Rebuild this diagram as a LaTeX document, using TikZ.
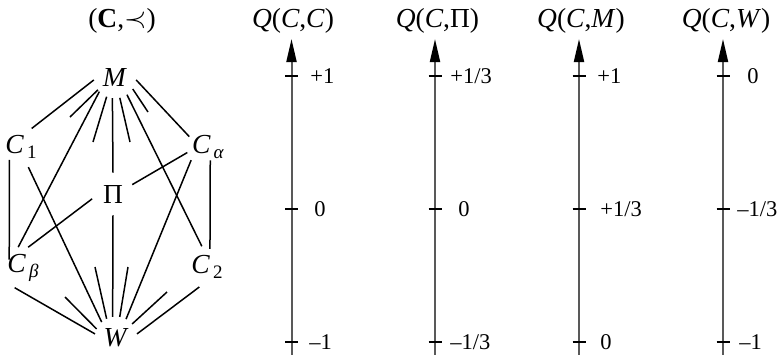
\documentclass[tikz,border=0pt]{standalone}
\usepackage{fontspec}
\setmainfont{Liberation Serif}
\usepackage{tikz}
\usetikzlibrary{arrows.meta, positioning}

\newcommand{\subsc}[1]{\kern1.5pt\raisebox{-2.8pt}{\fontsize{9.5}{10}\selectfont #1}}

\begin{document}
\begin{tikzpicture}[
    x=0.5pt, y=-0.5pt,
    elem/.style={circle, inner sep=0pt, minimum size=21pt, font=\fontsize{13.75}{16}\selectfont},
    edge/.style={line width=0.75pt},
    axis/.style={line width=1pt, black!65, -{Triangle[length=11.5pt, width=5pt, color=black]}},
    tick/.style={line width=0.6pt},
    val/.style={anchor=west, inner sep=0pt, font=\fontsize{11.25}{13}\selectfont},
    head/.style={anchor=base, inner sep=0pt, font=\fontsize{13.75}{16}\selectfont}
]
\useasboundingbox (0,0) rectangle (782,354);

% Order (C, prec)
\node[head] (title) at (122,27) {(\textbf{C},$\prec$)};
\node[elem] (M) at (115,77) {\textit{M}};
\node[elem] (C1) at (21,147) {\textit{C}\subsc{1}};
\node[elem] (Ca) at (208,147) {\textit{C}\subsc{\textit{α}}};
\node[elem] (Pi) at (113,194) {Π};
\node[elem] (Cb) at (23,268) {\textit{C}\subsc{\textit{β}}};
\node[elem] (C2) at (207,267) {\textit{C}\subsc{2}};
\node[elem] (W) at (116,338) {\textit{W}};

\draw[edge] (M.188) -- (C1.60);
\draw[edge] (M.223) -- (Cb.103);
\draw[edge] (M.263) -- (Pi.north);
\draw[edge] (M.304) -- (C2.104);
\draw[edge] (M.352) -- (Ca.151);
\draw[edge, shorten <=-2.5pt, shorten >=-4pt] (C1.237) -- (Cb.130);
\draw[edge, shorten <=-4pt, shorten >=-1.5pt] (Ca.276) -- (C2.82);
\draw[edge] (C1.290) -- (W.132);
\draw[edge] (Ca.218) -- (W.62);
\draw[edge] (Pi.south) -- (W.99);
\draw[edge] (Pi.193) -- (Cb.76);
\draw[edge] (Pi.26) -- (Ca.195);
\draw[edge] (Cb.247) -- (W.169);
\draw[edge] (C2.249) -- (W.11);

% stubs at M and W
\coordinate (m1) at (70,117);
\coordinate (m2) at (93,142);
\coordinate (m3) at (130,142);
\coordinate (m4) at (148,112);
\coordinate (w1) at (65,297);
\coordinate (w2) at (95,267);
\coordinate (w3) at (128,267);
\coordinate (w4) at (167,292);
\draw[edge] (M.217) -- (m1);
\draw[edge] (M.247) -- (m2);
\draw[edge] (M.283) -- (m3);
\draw[edge] (M.326) -- (m4);
\draw[edge] (W.155) -- (w1);
\draw[edge] (W.116) -- (w2);
\draw[edge] (W.80) -- (w3);
\draw[edge] (W.41) -- (w4);

% Axes
\coordinate (aCCb) at (291.5,360);
\coordinate (aCCt) at (291.5,39);
\coordinate (aCPb) at (435,360);
\coordinate (aCPt) at (435,39);
\coordinate (aCMb) at (579,360);
\coordinate (aCMt) at (579,39);
\coordinate (aCWb) at (723,360);
\coordinate (aCWt) at (723,39);
\draw[axis] (aCCb) -- (aCCt);
\draw[axis] (aCPb) -- (aCPt);
\draw[axis] (aCMb) -- (aCMt);
\draw[axis] (aCWb) -- (aCWt);
\draw[tick] (285,76) -- (298,76) (285,209) -- (298,209) (285,342) -- (298,342);
\draw[tick] (428.5,76) -- (441.5,76) (428.5,209) -- (441.5,209) (428.5,342) -- (441.5,342);
\draw[tick] (572.5,76) -- (585.5,76) (572.5,209) -- (585.5,209) (572.5,342) -- (585.5,342);
\draw[tick] (716.5,76) -- (729.5,76) (716.5,209) -- (729.5,209) (716.5,342) -- (729.5,342);

% Axis heads
\node[head] (hCC) at (293,27) {\textit{Q}(\textit{C},\textit{C})};
\node[head] (hCP) at (437.5,27) {\textit{Q}(\textit{C},Π)};
\node[head] (hCM) at (581,27) {\textit{Q}(\textit{C},\textit{M})};
\node[head] (hCW) at (726,27) {\textit{Q}(\textit{C},\textit{W})};

% Values
\node[val] (vCCa) at (310,76) {+1};
\node[val] (vCCb) at (314,209) {0};
\node[val] (vCCc) at (309,342) {--1};
\node[val] (vCPa) at (450,76) {+1/3};
\node[val] (vCPb) at (458,209) {0};
\node[val] (vCPc) at (450,342) {--1/3};
\node[val] (vCMa) at (597,76) {+1};
\node[val] (vCMb) at (600,209) {+1/3};
\node[val] (vCMc) at (600,342) {0};
\node[val] (vCWa) at (747,76) {0};
\node[val] (vCWb) at (737,209) {--1/3};
\node[val] (vCWc) at (739,342) {--1};

\end{tikzpicture}
\end{document}
